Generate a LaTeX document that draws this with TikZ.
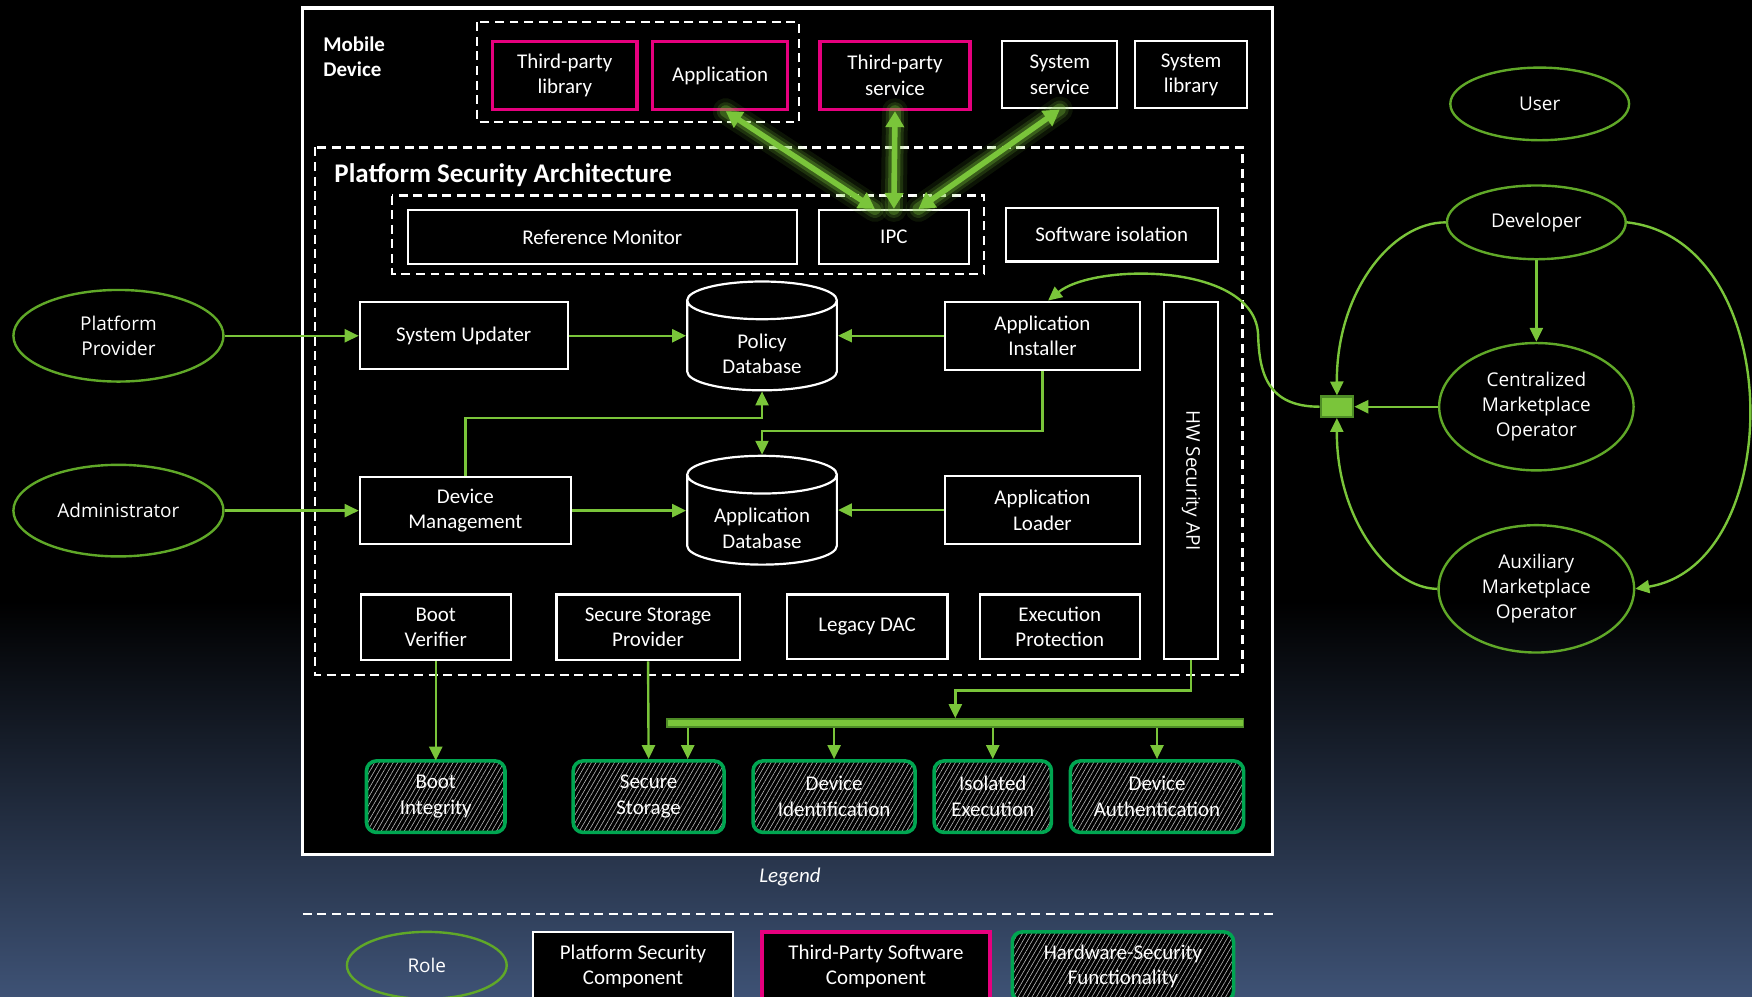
\documentclass[tikz,border=0pt]{standalone}
\usepackage{fontspec}
\setmainfont{Carlito}
\newfontfamily\rolefont{Open Sans}
\usetikzlibrary{shapes.geometric}
\usetikzlibrary{arrows.meta}
\usetikzlibrary{patterns.meta}

\definecolor{tppink}{RGB}{230,0,126}
\definecolor{flowgreen}{RGB}{122,197,58}
\definecolor{rolegreen}{RGB}{96,168,40}
\definecolor{hwgreen}{RGB}{0,166,81}
\definecolor{hubgreen}{RGB}{78,140,38}
\definecolor{slateblue}{RGB}{62,82,117}
\newlength{\px}
\setlength{\px}{0.56pt}

\begin{document}
\begin{tikzpicture}[x=0.56pt, y=-0.56pt, text=white, font=\fontsize{10.5}{12.9}\selectfont]
\tikzstyle{psc}=[rectangle, draw=white, line width=1.1pt, fill=black, align=center, inner sep=1pt]
\tikzstyle{tpc}=[psc, draw=tppink, line width=1.7pt]
\tikzstyle{hwf}=[rectangle, rounded corners=5pt, draw=hwgreen, line width=1.8pt, preaction={fill=black}, pattern={Lines[angle=60, distance=2pt, line width=0.3pt]}, pattern color=gray!55, align=center, inner sep=1pt]
\tikzstyle{db}=[cylinder, shape border rotate=90, shape aspect=0.45, draw=white, line width=1.1pt, fill=black, minimum width=134\px, minimum height=92\px, inner sep=1pt]
\tikzstyle{role}=[ellipse, draw=rolegreen, line width=1.2pt, align=center, inner sep=1pt, font=\rolefont\fontsize{9.5}{12.6}\selectfont]
\tikzstyle{dashbox}=[draw=white, line width=1.1pt, dash pattern=on 4.5pt off 2.8pt]
\tikzstyle{flow}=[draw=flowgreen, line width=1.2pt, -{Triangle[length=7pt, width=6.5pt]}]
\tikzstyle{ipclink}=[draw=flowgreen, line width=2.8pt, arrows={Triangle[length=8pt, width=9pt]-Triangle[length=8pt, width=9pt]}]

	%background
	\clip (0,0) rectangle (1568,892);
	\fill[black] (0,0) rectangle (1568,540);
	\shade[top color=black, bottom color=slateblue] (0,538) rectangle (1568,892);

	%rectangles
	\draw[white, line width=1.7pt, fill=black] (271,7) rectangle (1139,765);
	\node[anchor=north west, align=left, inner sep=0pt, font=\bfseries\fontsize{10.5}{12.4}\selectfont] (mobile) at (289,33) {Mobile\\Device};
	\draw[dashbox] (427,20) rectangle (715,109);
	\draw[dashbox] (282,132) rectangle (1112,604);
	\draw[dashbox] (351,175) rectangle (881,245);
	\node[anchor=west, inner sep=0pt, font=\bfseries\fontsize{13.5}{16}\selectfont] (psa) at (299,157) {Platform Security Architecture};

	\node[tpc, minimum width=129\px, minimum height=61\px] (tplib) at (505.5,67.5) {Third-party\\library};
	\node[tpc, minimum width=121\px, minimum height=61\px] (app) at (644.5,67.5) {Application};
	\node[tpc, minimum width=134\px, minimum height=61\px] (tpserv) at (801,67.5) {Third-party\\service};
	\node[psc, minimum width=103\px, minimum height=60\px] (sysserv) at (948.5,67) {System\\service};
	\node[psc, minimum width=100\px, minimum height=60\px] (syslib) at (1066,67) {System\\library};

	\node[psc, minimum width=348\px, minimum height=48\px] (refmon) at (539,212) {Reference Monitor};
	\node[psc, minimum width=134\px, minimum height=48\px] (ipc) at (800,212) {IPC};
	\node[psc, minimum width=190\px, minimum height=48\px] (swiso) at (995,210) {Software isolation};
	\node[psc, minimum width=186\px, minimum height=60\px] (sysupd) at (415,300.5) {System Updater};
	\node[db] (poldb) at (682,311.5) {\raisebox{-7\px}[\height][\depth]{\makebox[40pt]{\begin{tabular}{@{}c@{}}Policy\\Database\end{tabular}}}};
	\node[psc, minimum width=174\px, minimum height=61\px] (appinst) at (933,300.5) {Application\\Installer};
	\node[psc, minimum width=48\px, minimum height=320\px] (hwapi) at (1066,430) {};
	\node[rotate=-90, inner sep=0pt, font=\rolefont\fontsize{9.5}{12}\selectfont] (hwapitext) at (hwapi) {HW Security API};
	\node[psc, minimum width=189\px, minimum height=60\px] (devmgmt) at (416.5,457) {Device\\Management};
	\node[db] (appdb) at (682,467.5) {\raisebox{-7\px}[\height][\depth]{\makebox[40pt]{\begin{tabular}{@{}c@{}}Application\\Database\end{tabular}}}};
	\node[psc, minimum width=174\px, minimum height=61\px] (apploader) at (933,456.5) {Application\\Loader};
	\node[psc, minimum width=134\px, minimum height=59\px] (bootver) at (390,561.5) {Boot\\Verifier};
	\node[psc, minimum width=164\px, minimum height=59\px] (ssprov) at (580,561.5) {Secure Storage\\Provider};
	\node[psc, minimum width=144\px, minimum height=58\px] (legdac) at (776,561) {Legacy DAC};
	\node[psc, minimum width=143\px, minimum height=58\px] (execprot) at (948.5,561) {Execution\\Protection};

	\node[hwf, minimum width=124\px, minimum height=64\px] (bootint) at (390,713) {Boot\\Integrity};
	\node[hwf, minimum width=135\px, minimum height=64\px] (secstore) at (580.5,713) {Secure\\Storage};
	\node[hwf, minimum width=145\px, minimum height=64\px] (devid) at (746.5,713) {Device\\Identification};
	\node[hwf, minimum width=105\px, minimum height=64\px] (isoexec) at (888.5,713) {Isolated\\Execution};
	\node[hwf, minimum width=155\px, minimum height=64\px] (devauth) at (1035.5,713) {Device\\Authentication};
	\node[rectangle, fill=flowgreen, draw=hubgreen, line width=0.8pt, minimum width=516\px, minimum height=7\px, inner sep=0pt] (bus) at (855,647) {};

	%circles
	\node[role, minimum width=188\px, minimum height=82\px] (pprov) at (106,300.5) {Platform\\Provider};
	\node[role, minimum width=188\px, minimum height=82\px] (admin) at (106,457) {Administrator};
	\node[role, minimum width=160\px, minimum height=65\px] (user) at (1378,93) {User};
	\node[role, minimum width=160\px, minimum height=66\px] (dev) at (1375,199) {Developer};
	\node[role, minimum width=174\px, minimum height=114\px] (cmo) at (1375,364) {Centralized\\Marketplace\\Operator};
	\node[role, minimum width=175\px, minimum height=114\px] (amo) at (1375,527) {Auxiliary\\Marketplace\\Operator};
	\node[rectangle, fill=flowgreen, draw=hubgreen, line width=1.2pt, minimum width=29\px, minimum height=18\px, inner sep=0pt] (hub) at (1196.5,364) {};

	%paths
	\draw[flow] (pprov.east) -- (sysupd.west);
	\draw[flow] (admin.east) -- (devmgmt.west);
	\draw[flow] (sysupd.east) -- (sysupd.east -| poldb.west);
	\draw[flow] (appinst.west) -- (appinst.west -| poldb.east);
	\draw[flow] (devmgmt.north) -- ++(0,-52) -| (poldb.south);
	\draw[flow] (appinst.south) -- ++(0,54) -| (appdb.north);
	\draw[flow] (devmgmt.east) -- (devmgmt.east -| appdb.west);
	\draw[flow] (apploader.west) -- (apploader.west -| appdb.east);
	\draw[flow] (bootver.south) -- (bootint.north);
	\draw[flow] (ssprov.south) -- (secstore.north);
	\draw[flow] (hwapi.south) -- ++(0,27) -| (bus.north);
	\draw[flow] ([xshift=35\px]secstore.north |- bus.south) -- ([xshift=35\px]secstore.north);
	\draw[flow] (bus.south -| devid.north) -- (devid.north);
	\draw[flow] (bus.south -| isoexec.north) -- (isoexec.north);
	\draw[flow] (bus.south -| devauth.north) -- (devauth.north);

	\draw[flow] (dev.south) -- (cmo.north);
	\draw[flow] (cmo.west) -- (hub.east);
	\draw[flow] (dev.west) .. controls (1245,199) and (1196,262) .. (hub.north);
	\draw[flow] (amo.west) .. controls (1245,527) and (1196,466) .. (hub.south);
	\draw[flow] (dev.east) .. controls (1600,215) and (1600,505) .. (amo.east);
	\draw[flow] (hub.west) .. controls (1135,364) and (1127,335) .. (1126,300) .. controls (1124,235) and (980,235) .. ([xshift=5\px]appinst.north);

	%glowing links to IPC
	\foreach \w/\o in {13/0.1, 9/0.18, 6/0.3} {
		\draw[flowgreen, line width=\w pt, line cap=round, opacity=\o] ([xshift=5\px]app.south) -- ([xshift=-17\px]ipc.north);
		\draw[flowgreen, line width=\w pt, line cap=round, opacity=\o] (tpserv.south) -- (ipc.north);
		\draw[flowgreen, line width=\w pt, line cap=round, opacity=\o] (sysserv.south) -- ([xshift=22\px]ipc.north);
	}
	\draw[ipclink] ([xshift=5\px]app.south) -- ([xshift=-17\px]ipc.north);
	\draw[ipclink] (tpserv.south) -- (ipc.north);
	\draw[ipclink] (sysserv.south) -- ([xshift=22\px]ipc.north);

	%legend
	\node[font=\itshape\fontsize{10.5}{12.9}\selectfont] (legend) at (707,785) {Legend};
	\draw[dashbox] (271,818) -- (1139,818);
	\node[role, minimum width=143\px, minimum height=60\px] (legrole) at (382,864) {Role};
	\node[psc, minimum width=179\px, minimum height=62\px] (legpsc) at (566.5,865) {Platform Security\\Component};
	\node[tpc, minimum width=204\px, minimum height=62\px] (legtpc) at (784,865) {Third-Party Software\\Component};
	\node[hwf, minimum width=198\px, minimum height=62\px] (leghwf) at (1005,865) {Hardware-Security\\Functionality};

\end{tikzpicture}
\end{document}
